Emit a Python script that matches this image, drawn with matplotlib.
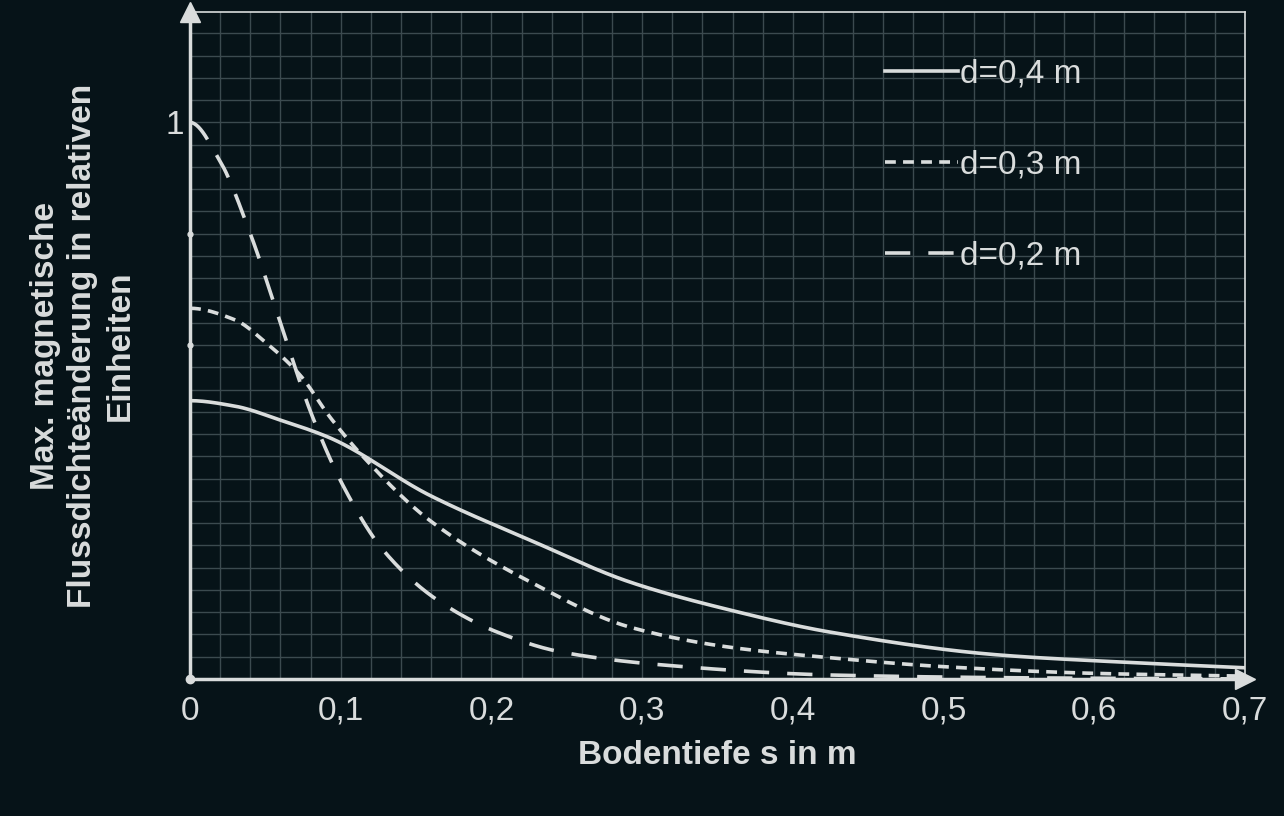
import numpy as np
import matplotlib
matplotlib.use("Agg")
import matplotlib.pyplot as plt
from matplotlib.ticker import MultipleLocator, FuncFormatter

BG = "#061318"
FG = "#d9dcdc"
GRID = "#3b4a4f"

# Bodentiefe s in m / relative Flussdichteänderung
s_04 = [0.0, 0.03, 0.06, 0.093, 0.159, 0.226, 0.292, 0.358, 0.425, 0.537, 0.62, 0.7]
b_04 = [0.50, 0.49, 0.465, 0.433, 0.330, 0.249, 0.174, 0.124, 0.084, 0.043, 0.03, 0.02]
s_03 = [0.0, 0.03, 0.05, 0.073, 0.093, 0.115, 0.159, 0.226, 0.292, 0.358, 0.425, 0.5, 0.6, 0.7]
b_03 = [0.666, 0.645, 0.605, 0.546, 0.47, 0.399, 0.285, 0.174, 0.093, 0.057, 0.038, 0.022, 0.01, 0.005]
s_02 = [0.0, 0.02, 0.04, 0.06, 0.08, 0.102, 0.128, 0.164, 0.204, 0.247, 0.314, 0.425, 0.55, 0.7]
b_02 = [1.0, 0.93, 0.80, 0.64, 0.48, 0.345, 0.232, 0.142, 0.084, 0.048, 0.025, 0.007, 0.002, 0.0]
x_ticks = [0, 0.1, 0.2, 0.3, 0.4, 0.5, 0.6, 0.7]

plt.rcParams["font.family"] = ["Liberation Sans", "DejaVu Sans"]

fig = plt.figure(figsize=(12.84, 8.16), dpi=100, facecolor=BG)
ax = fig.add_axes([0.148, 0.168, 0.8215, 0.817])
ax.set_facecolor(BG)


def smooth(xs, ys):
    # monotone piecewise-cubic (PCHIP) through the read points
    xs = np.asarray(xs, float)
    ys = np.asarray(ys, float)
    h = np.diff(xs)
    d = np.diff(ys) / h
    m = np.zeros_like(ys)
    m[0], m[-1] = 0.0, d[-1]
    for i in range(1, len(xs) - 1):
        if d[i - 1] * d[i] > 0:
            w1 = 2 * h[i] + h[i - 1]
            w2 = h[i] + 2 * h[i - 1]
            m[i] = (w1 + w2) / (w1 / d[i - 1] + w2 / d[i])
    xx = np.linspace(xs[0], xs[-1], 500)
    k = np.clip(np.searchsorted(xs, xx) - 1, 0, len(xs) - 2)
    t = (xx - xs[k]) / h[k]
    y = (ys[k] * (2 * t**3 - 3 * t**2 + 1) + h[k] * m[k] * (t**3 - 2 * t**2 + t)
         + ys[k + 1] * (-2 * t**3 + 3 * t**2) + h[k] * m[k + 1] * (t**3 - t**2))
    return xx, y


lw = 2.6
ax.plot(*smooth(s_04, b_04), color=FG, lw=lw, label="d=0,4 m")
ax.plot(*smooth(s_03, b_03), color=FG, lw=lw, dashes=(3, 2), label="d=0,3 m")
ax.plot(*smooth(s_02, b_02), color=FG, lw=lw, dashes=(7, 5), label="d=0,2 m")

ax.set_xlim(0, 0.7)
ax.set_ylim(0, 1.198)
ax.xaxis.set_minor_locator(MultipleLocator(0.02))
ax.yaxis.set_minor_locator(MultipleLocator(0.04))
ax.set_xticks(x_ticks)
ax.xaxis.set_major_formatter(FuncFormatter(lambda v, _: f"{v:.1f}".replace(".", ",") if v else "0"))
ax.set_yticks([1])
ax.set_yticklabels(["1"])
ax.grid(which="both", color=GRID, lw=1.0)
ax.set_axisbelow(True)
ax.tick_params(which="both", length=0, colors=FG, labelsize=24, pad=12)
ax.tick_params(axis="y", pad=4)

for side in ["left", "bottom"]:
    ax.spines[side].set_color(FG)
    ax.spines[side].set_linewidth(2.5)
for side in ["top", "right"]:
    ax.spines[side].set_color(FG)
    ax.spines[side].set_linewidth(1.2)

# arrows at axis ends and small markers on the y axis
ax.plot(1, 0, ">", color=FG, ms=14, transform=ax.transAxes, clip_on=False)
ax.plot(0, 1, "^", color=FG, ms=14, transform=ax.transAxes, clip_on=False)
ax.plot(0, 0, "o", color=FG, ms=6, transform=ax.transAxes, clip_on=False)
ax.plot([0, 0], [0.6, 0.8], "o", color=FG, ms=3.5, clip_on=False)

ax.set_xlabel("Bodentiefe s in m", color=FG, fontsize=24, fontweight="bold", labelpad=10)
ax.set_ylabel("Max. magnetische\nFlussdichteänderung in relativen\nEinheiten", color=FG,
              fontsize=24, fontweight="bold", labelpad=22, linespacing=1.25)

ax.legend(loc="upper left", bbox_to_anchor=(0.63, 0.975), frameon=False,
          fontsize=24, handlelength=2.2, handletextpad=0.05, labelspacing=1.8,
          labelcolor=FG)

fig.savefig("out.png", facecolor=BG)
